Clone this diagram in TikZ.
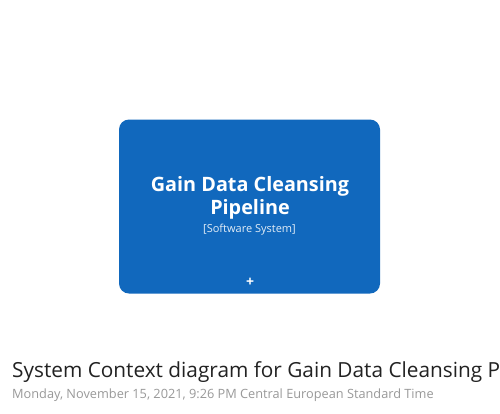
\documentclass[tikz,border=0pt]{standalone}
\usepackage{fontspec}
\setmainfont{Open Sans}
\definecolor{sysblue}{HTML}{1168BD}
\definecolor{titlecol}{HTML}{222222}
\definecolor{subcol}{HTML}{999999}
\tikzset{
  sysbox/.style={fill=sysblue, draw=none, rounded corners=10pt, minimum width=261pt, minimum height=174pt, inner sep=0pt},
  boxtitle/.style={text=white, font=\fontsize{19.8}{23}\selectfont\bfseries, align=center, inner sep=0pt},
  boxtype/.style={text=white!88!sysblue, font=\fontsize{11}{13}\selectfont, inner sep=0pt},
  plus/.style={text=white, font=\fontsize{14}{14}\selectfont\bfseries, inner sep=0pt},
  diagtitle/.style={text=titlecol, font=\fontsize{20.8}{24}\selectfont, anchor=base west, inner sep=0pt},
  diagsub/.style={text=subcol, font=\fontsize{12.75}{14}\selectfont, anchor=base west, inner sep=0pt}
}
\begin{document}
\begin{tikzpicture}[x=1pt,y=-1pt]
\useasboundingbox[fill=white] (0,0) rectangle (500,413);
\clip (0,0) rectangle (500,413);
\node[sysbox] (sys) at (249.5,206.5) {};
\node[boxtitle, anchor=base] (name) at (250,214) {Gain Data Cleansing\\Pipeline};
\node[boxtype, anchor=base] (type) at (249.5,232.5) {[Software System]};
\node[plus] (exp) at (250,282) {+};
\node[diagtitle] (title) at (12,377.5) {System Context diagram for Gain Data Cleansing Pipeline};
\node[diagsub] (sub) at (12,398) {Monday, November 15, 2021, 9:26 PM Central European Standard Time};
\end{tikzpicture}
\end{document}
